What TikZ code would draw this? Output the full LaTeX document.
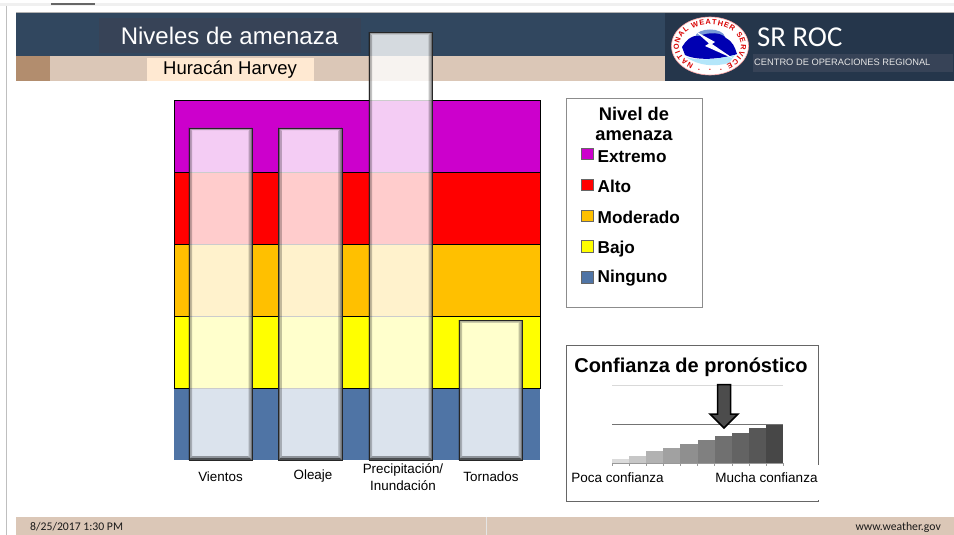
\documentclass[tikz,border=0pt]{standalone}
\usepackage{fontspec}
\setmainfont{Liberation Sans}
\newfontfamily\humanist{Carlito}
\usetikzlibrary{decorations.text}
\definecolor{navy}{HTML}{31475F}
\definecolor{navyd}{HTML}{25364B}
\definecolor{navym}{HTML}{374357}
\definecolor{tan}{HTML}{DBC7B7}
\definecolor{tand}{HTML}{B28D6E}
\definecolor{peach}{HTML}{FFE9D2}
\definecolor{lvE}{HTML}{CC00CC}
\definecolor{lvA}{HTML}{FF0000}
\definecolor{lvM}{HTML}{FFC000}
\definecolor{lvB}{HTML}{FFFF00}
\definecolor{lvN}{HTML}{4F74A5}
\tikzset{
 band/.style={draw=black,line width=.8pt,minimum width=366.5pt,minimum height=72pt,inner sep=0pt,anchor=north west},
 lbl/.style={font=\fontsize{13.4}{16.5}\selectfont,align=center,inner sep=0pt},
 leg/.style={font=\bfseries\fontsize{17.2}{19}\selectfont,inner sep=0pt,anchor=base west},
 swatch/.style={draw=black!60,line width=.8pt,minimum size=11.5pt,inner sep=0pt},
 panel/.style={draw=black!60,line width=.7pt,fill=white,inner sep=0pt,anchor=north west},
}
\newcommand{\glassbar}[5]{% name,left,top,right,bottom
 \fill[white,fill opacity=.8] (#2,#3) rectangle (#4,#5);
 \fill[black!60,fill opacity=.5] (#2,#3)--(#4,#3)--(#4-2.5,#3+2.5)--(#2+2.5,#3+2.5)--cycle;
 \fill[black,fill opacity=.48] (#2,#3)--(#2+1.5,#3+1.5)--(#2+1.5,#5-1.5)--(#2,#5)--cycle;
 \fill[black,fill opacity=.24] (#2+1.5,#3+1.5)--(#2+3.5,#3+3.5)--(#2+3.5,#5-3.5)--(#2+1.5,#5-1.5)--cycle;
 \fill[black,fill opacity=.48] (#4,#3)--(#4-1.5,#3+1.5)--(#4-1.5,#5-1.5)--(#4,#5)--cycle;
 \fill[black,fill opacity=.24] (#4-1.5,#3+1.5)--(#4-3.5,#3+3.5)--(#4-3.5,#5-3.5)--(#4-1.5,#5-1.5)--cycle;
 \fill[black,fill opacity=.65] (#2,#5)--(#2+2,#5-2)--(#4-2,#5-2)--(#4,#5)--cycle;
 \fill[black,fill opacity=.35] (#2+2,#5-2)--(#2+4,#5-4)--(#4-4,#5-4)--(#4-2,#5-2)--cycle;
 \node[draw=black!85,line width=.9pt,inner sep=0pt,minimum width=#4pt-#2pt,minimum height=#5pt-#3pt,anchor=north west] (#1) at (#2,#3) {};
}
\begin{document}
\begin{tikzpicture}[x=1pt,y=-1pt]
\useasboundingbox (0,0) rectangle (954,535);
\fill[white] (0,0) rectangle (954,535);
% slide edges
\fill[black!6] (0,3.3) rectangle (954,5.7);
\fill[black!60] (51,3.3) rectangle (95,4.8);
\draw[black!25,line width=.7pt] (6.5,6)--(6.5,535);
% header
\fill[navy] (16,12) rectangle (666,56);
\fill[black!30] (16,12) rectangle (954,13);
\fill[navym] (99,18) rectangle (361,53);
\fill[tan] (16,56) rectangle (666,81);
\fill[tand] (16,56) rectangle (50,81);
\fill[peach] (147,58) rectangle (314,81);
\fill[navyd] (665,13) rectangle (954,81);
\fill[navym] (753,54) rectangle (953,72);
\node[text=white,font=\fontsize{24}{28}\selectfont,inner sep=0pt] (title) at (229.5,36) {Niveles de amenaza};
\node[text=black,font=\fontsize{18.5}{20}\selectfont,inner sep=0pt] (sub) at (230,70) {Huracán Harvey};
\node[text=white,font=\humanist\fontsize{28.8}{30}\selectfont,anchor=west,inner sep=0pt] (sr) at (757,37) {SR ROC};
\node[text=white!90!black,font=\fontsize{9.3}{12}\selectfont,anchor=west,inner sep=0pt] (co) at (754,62.5) {CENTRO DE OPERACIONES REGIONAL};
% logo
\fill[white,draw=red!35!white,line width=.6pt] (710,46) ellipse [x radius=38.5,y radius=29];
\fill[cyan!45!blue!55] (695,37) .. controls (697,27) and (723,27) .. (725,37) -- cycle;
\fill[blue!70!black] (682,47) .. controls (686,41) and (690,35) .. (699,36) .. controls (709,32) and (721,32) .. (726,38) .. controls (732,41) and (735,47) .. (737,54) .. controls (727,58) and (699,62) .. (685,55) -- cycle;
\fill[cyan!30] (686,57) .. controls (703,62) and (721,58) .. (735,55) -- (729,63) .. controls (714,67) and (699,66) .. (686,57) -- cycle;
\fill[white] (695,31) -- (715,42) -- (712,44) -- (734,59) -- (705,46) -- (709,43.5) -- cycle;
\path[decorate,decoration={text along path,text align=fit to path,
  text={|\bfseries\fontsize{7.4}{8}\selectfont\color{red!85!black}|NATIONAL WEATHER SERVICE}}]
  (710,46)+(122:31 and 21.5) arc[start angle=122,end angle=418,x radius=31,y radius=21.5];
\foreach \sx in {699,710,721}
  \node[text=red!85!black,font=\fontsize{5}{5}\selectfont,inner sep=0pt] at (\sx,70.5) {\char"2022};
% bands
\node[band,fill=lvE] (e) at (173.5,100) {};
\node[band,fill=lvA] (a) at (173.5,172) {};
\node[band,fill=lvM] (m) at (173.5,244) {};
\node[band,fill=lvB] (b) at (173.5,316) {};
\node[band,draw=none,fill=lvN] (n) at (173.5,388) {};
\draw[black,line width=.8pt] (n.north west)--(n.north east);
% bars
\glassbar{b1}{188.5}{127.5}{252}{460}
\glassbar{b2}{278.3}{127.5}{341.8}{460}
\glassbar{b3}{368.7}{32}{432}{460}
\glassbar{b4}{458.5}{320}{522}{460}
% bar labels
\node[lbl] (l1) at (220.5,476.5) {Vientos};
\node[lbl] (l2) at (313,476.5) {Oleaje};
\node[lbl] (l3) at (403,477) {Precipitación/\\Inundación};
\node[lbl] (l4) at (491,476.5) {Tornados};
% legend
\node[panel,draw=black!45,minimum width=135.5pt,minimum height=209pt] (lg) at (566,98) {};
\node[font=\bfseries\fontsize{18.3}{20}\selectfont,inner sep=0pt,anchor=base] (lgt1) at (634,120.7) {Nivel de};
\node[font=\bfseries\fontsize{18.3}{20}\selectfont,inner sep=0pt,anchor=base] (lgt2) at (634,140.7) {amenaza};
\node[swatch,fill=lvE] (s1) at (587.3,154) {}; \node[leg] (t1) at (597.5,162.7) {Extremo};
\node[swatch,fill=lvA] (s2) at (587.3,185) {}; \node[leg] (t2) at (597.5,192.7) {Alto};
\node[swatch,fill=lvM] (s3) at (587.3,216) {}; \node[leg] (t3) at (597.5,223) {Moderado};
\node[swatch,fill=lvB] (s4) at (587.3,246.5) {}; \node[leg] (t4) at (597.5,253) {Bajo};
\node[swatch,fill=lvN] (s5) at (587.3,277.5) {}; \node[leg] (t5) at (597.5,282.7) {Ninguno};
% confidence
\node[panel,minimum width=252.7pt,minimum height=155.5pt] (cf) at (565.5,345.2) {};
\fill[white] (816.5,465) rectangle (820,499.9);
\node[font=\bfseries\fontsize{20}{24}\selectfont,inner sep=0pt] (cft) at (691,367) {Confianza de pronóstico};
\draw[black!15,line width=.7pt] (612,385.5)--(783,385.5);
\draw[black!55,line width=.7pt] (612,424.5)--(783,424.5);
\foreach \i/\h/\g in {0/3.7/14,1/7/22,2/11.7/30,3/14.7/37,4/19/44,5/23/50,6/26.7/56,7/30.4/61,8/34.7/66,9/38.4/72}{
  \fill[black!\g] ({612+\i*17.1},463) rectangle ({612+(\i+1)*17.1},463-\h);
  \draw[black!40,line width=.4pt] ({612+\i*17.1},463)--++(0,3);
}
\draw[black!40,line width=.4pt] (783,463)--++(0,3);
\draw[black!40,line width=.6pt] (612,463)--(783,463);
\draw[black,line width=1.5pt,line join=miter,fill=black!70] (717.5,384.5)--(730.5,384.5)--(730.5,414)--(738,414)--(724,428)--(710,414)--(717.5,414)--cycle;
\node[lbl,font=\fontsize{13.5}{16}\selectfont] (lo) at (617.5,478) {Poca confianza};
\node[lbl,font=\fontsize{13.5}{16}\selectfont] (hi) at (766.5,478) {Mucha confianza};
% footer
\fill[tan] (16,517) rectangle (954,535);
\draw[black!10,line width=.5pt] (486,517)--(486,535);
\node[font=\humanist\fontsize{11.7}{12}\selectfont,anchor=west,inner sep=0pt,text=black!90] (dt) at (30,527) {8/25/2017 1:30 PM};
\node[font=\humanist\fontsize{11.7}{12}\selectfont,anchor=east,inner sep=0pt,text=black!90] (ww) at (941,527) {www.weather.gov};
\end{tikzpicture}
\end{document}
